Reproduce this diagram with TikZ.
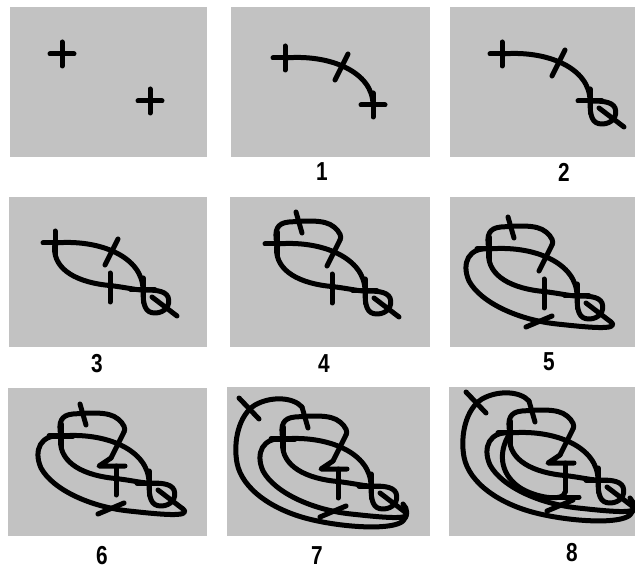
\documentclass[tikz,border=0pt]{standalone}
\usepackage{fontspec}
\usepackage{graphicx}
\newfontfamily\labfont[FakeStretch=0.8]{Liberation Sans}
\definecolor{panelgray}{gray}{0.76}
\tikzset{
  pen/.style={line width=5pt, line cap=round, line join=round, draw=black},
  panelbg/.style={fill=panelgray, draw=none},
  numlabel/.style={font=\labfont\bfseries\fontsize{26}{26}\selectfont, inner sep=0pt, anchor=center}
}
% Brussels sprouts position after #1 moves, in panel-local pixels
\newcommand\sproutsstate[1]{%
  \draw[pen] (38,48) -- (62,48) (50,36) -- (50,60);
  \draw[pen] (126,95) -- (150,95) (138,83) -- (138,107);
  \ifnum#1>0
    \draw[pen] (50,48) .. controls (95,44) and (138,62) .. (138,95);
    \draw[pen] (113,44) -- (100,70);
  \fi
  \ifnum#1>1
    \draw[pen] (138,95) .. controls (138,110) and (140,118) .. (150,118)
      .. controls (160,118) and (166,110) .. (163,102)
      .. controls (160,95) and (148,95) .. (138,95);
    \draw[pen] (147,102) -- (172,121);
  \fi
  \ifnum#1>2
    \draw[pen] (50,48) .. controls (46,72) and (68,86) .. (100,90)
      .. controls (120,92) and (130,95) .. (138,95);
    \draw[pen] (105,78) -- (105,107);
  \fi
  \ifnum#1>3
    \draw[pen] (50,48) .. controls (47,34) and (50,27) .. (62,26)
      .. controls (78,25) and (98,23) .. (107,31)
      .. controls (113,36) and (115,41) .. (113,44);
    \draw[pen] (69,16) -- (75,37);
  \fi
  \ifnum#1>4
    \draw[pen] (50,48) .. controls (30,46) and (22,62) .. (30,80)
      .. controls (42,102) and (80,119) .. (118,123)
      .. controls (146,126) and (182,130) .. (172,121);
    \draw[pen] (87,126) -- (113,115);
  \fi
  \ifnum#1>5
    \draw[pen] (100,70) -- (88,78) -- (114,78);
  \fi
  \ifnum#1>6
    \draw[pen] (69,16) .. controls (60,6) and (38,5) .. (22,14)
      .. controls (6,24) and (0,50) .. (4,72)
      .. controls (9,98) and (40,120) .. (80,129)
      .. controls (115,137) and (160,139) .. (170,130)
      .. controls (175,125) and (175,118) .. (170,113);
    \draw[pen] (6,7) -- (26,28);
  \fi
  \ifnum#1>7
    \draw[pen] (105,107) .. controls (105,116) and (80,114) .. (62,104)
      .. controls (42,92) and (36,70) .. (50,48);
    \draw[pen] (93,112) -- (119,112);
  \fi
}
\begin{document}
\begin{tikzpicture}[x=1pt,y=-1pt]
\useasboundingbox (0,0) rectangle (635,569);
\fill[white] (0,0) rectangle (635,569);
% panels
\fill[panelbg] (10,7) rectangle (207,157);
\fill[panelbg] (231,7) rectangle (430,157);
\fill[panelbg] (450,7) rectangle (635,157);
\fill[panelbg] (9,197) rectangle (207,347);
\fill[panelbg] (230,197) rectangle (430,347);
\fill[panelbg] (450,197) rectangle (635,347);
\fill[panelbg] (8,388) rectangle (207,536);
\fill[panelbg] (227,387) rectangle (430,536);
\fill[panelbg] (449,387) rectangle (635,536);
% drawings
\begin{scope}[shift={(12,6)}]\sproutsstate{0}\end{scope}
\begin{scope}[shift={(235,10)}]\sproutsstate{1}\end{scope}
\begin{scope}[shift={(452,6)}]\sproutsstate{2}\end{scope}
\begin{scope}[shift={(5,195)}]\sproutsstate{3}\end{scope}
\begin{scope}[shift={(227,196)}]\sproutsstate{4}\end{scope}
\begin{scope}[shift={(439,201)}]\sproutsstate{5}\end{scope}
\begin{scope}[shift={(11,388)}]\sproutsstate{6}\end{scope}
\begin{scope}[shift={(233,391)}]\sproutsstate{7}\end{scope}
\begin{scope}[shift={(460,385)}]\sproutsstate{8}\end{scope}
% labels
\node[numlabel] (n1) at (322,172) {1};
\node[numlabel] (n2) at (564,172) {2};
\node[numlabel] (n3) at (97,364) {3};
\node[numlabel] (n4) at (324,364) {4};
\node[numlabel] (n5) at (549,362) {5};
\node[numlabel] (n6) at (102,556) {6};
\node[numlabel] (n7) at (317,556) {7};
\node[numlabel] (n8) at (572,553) {8};
\end{tikzpicture}
\end{document}
